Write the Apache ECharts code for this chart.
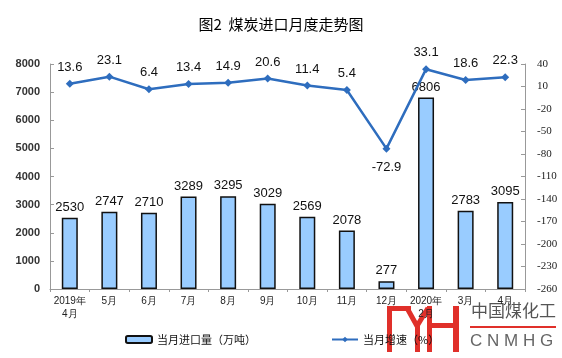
<!DOCTYPE html>
<html><head><meta charset="utf-8">
<script src="https://cdn.jsdelivr.net/npm/echarts@6/dist/echarts.min.js"></script>
<style>html,body{margin:0;padding:0;background:#fff}#c{width:562px;height:358px}</style>
</head><body><div id="c"></div>
<script>
var categories = ['2019年\n4月','5月','6月','7月','8月','9月','10月','11月','12月','2020年\n2月','3月','4月'];
var importVolume = [2530,2747,2710,3289,3295,3029,2569,2078,277,6806,2783,3095];
var growthRate = [13.6,23.1,6.4,13.4,14.9,20.6,11.4,5.4,-72.9,33.1,18.6,22.3];
var leftTicks = {min:0,max:8000,interval:1000};
var rightTicks = {min:-260,max:40,interval:30};

var lineData = growthRate.map(function(v){
  return v < 0 ? {value:v,label:{position:'bottom',distance:8}} : v;
});

var chart = echarts.init(document.getElementById('c'));
var red = '#E0302A';
chart.setOption({
  animation:false,
  title:{text:'图2  煤炭进口月度走势图',left:'center',top:12,textStyle:{fontFamily:'Noto Sans CJK SC',fontSize:15,fontWeight:'normal',color:'#000'}},
  grid:{left:50,right:37,top:64,bottom:69},
  legend:{bottom:8,left:120,itemGap:75,itemWidth:26,itemHeight:7,textStyle:{fontFamily:'Noto Sans CJK SC',fontSize:11,color:'#111'},
    data:['当月进口量（万吨）','当月增速（%）']},
  xAxis:{type:'category',data:categories,
    axisLine:{lineStyle:{color:'#999'}},
    axisTick:{show:true,length:3,lineStyle:{color:'#999'}},
    axisLabel:{interval:0,fontFamily:'Liberation Sans',fontSize:10,color:'#222',lineHeight:13,margin:6}},
  yAxis:[
    {type:'value',min:leftTicks.min,max:leftTicks.max,interval:leftTicks.interval,
     splitLine:{show:false},axisLine:{show:true,lineStyle:{color:'#999'}},
     axisTick:{show:true,inside:true,length:4,lineStyle:{color:'#999'}},
     axisLabel:{formatter:function(v){return String(v);},fontFamily:'Liberation Sans',fontSize:11,fontWeight:'bold',color:'#333',margin:10}},
    {type:'value',min:rightTicks.min,max:rightTicks.max,interval:rightTicks.interval,
     splitLine:{show:false},axisLine:{show:true,lineStyle:{color:'#999'}},
     axisTick:{show:true,inside:true,length:4,lineStyle:{color:'#999'}},
     axisLabel:{fontFamily:'Liberation Serif',fontSize:11,color:'#222',margin:12}}
  ],
  series:[
    {name:'当月进口量（万吨）',type:'bar',data:importVolume,barWidth:16,yAxisIndex:0,
     itemStyle:{color:'#99CCFF',borderColor:'#111',borderWidth:1.5},
     label:{show:true,position:'top',distance:4,fontFamily:'Liberation Sans',fontSize:13,color:'#111'}},
    {name:'当月增速（%）',type:'line',data:lineData,yAxisIndex:1,
     symbol:'diamond',symbolSize:8,
     lineStyle:{color:'#2E6DBE',width:2.5},itemStyle:{color:'#2E6DBE'},
     label:{show:true,position:'top',distance:6,fontFamily:'Liberation Sans',fontSize:13,color:'#111',
       formatter:function(p){return Number(p.value).toFixed(1);}}}
  ],
  graphic:[
    {type:'group',z:100,children:[
      {type:'rect',shape:{x:387,y:306,width:5,height:46},style:{fill:red}},
      {type:'rect',shape:{x:387,y:306,width:24,height:5},style:{fill:red}},
      {type:'polyline',shape:{points:[[407,308],[417,326],[428,308]]},style:{stroke:red,lineWidth:5,fill:null}},
      {type:'rect',shape:{x:415,y:325,width:5,height:27},style:{fill:red}},
      {type:'rect',shape:{x:427,y:306,width:5,height:46},style:{fill:red}},
      {type:'rect',shape:{x:453,y:306,width:6,height:46},style:{fill:red}},
      {type:'rect',shape:{x:427,y:323,width:32,height:5},style:{fill:red}},
      {type:'text',style:{x:471,y:302,text:'中国煤化工',font:'17px "Noto Sans CJK SC"',fill:'#555'}},
      {type:'rect',shape:{x:470,y:326,width:86,height:2},style:{fill:red}},
      {type:'text',style:{x:470,y:333,text:'C N M H G',font:'17px "Liberation Sans"',fill:'#666'}}
    ]}
  ]
});
</script></body></html>
